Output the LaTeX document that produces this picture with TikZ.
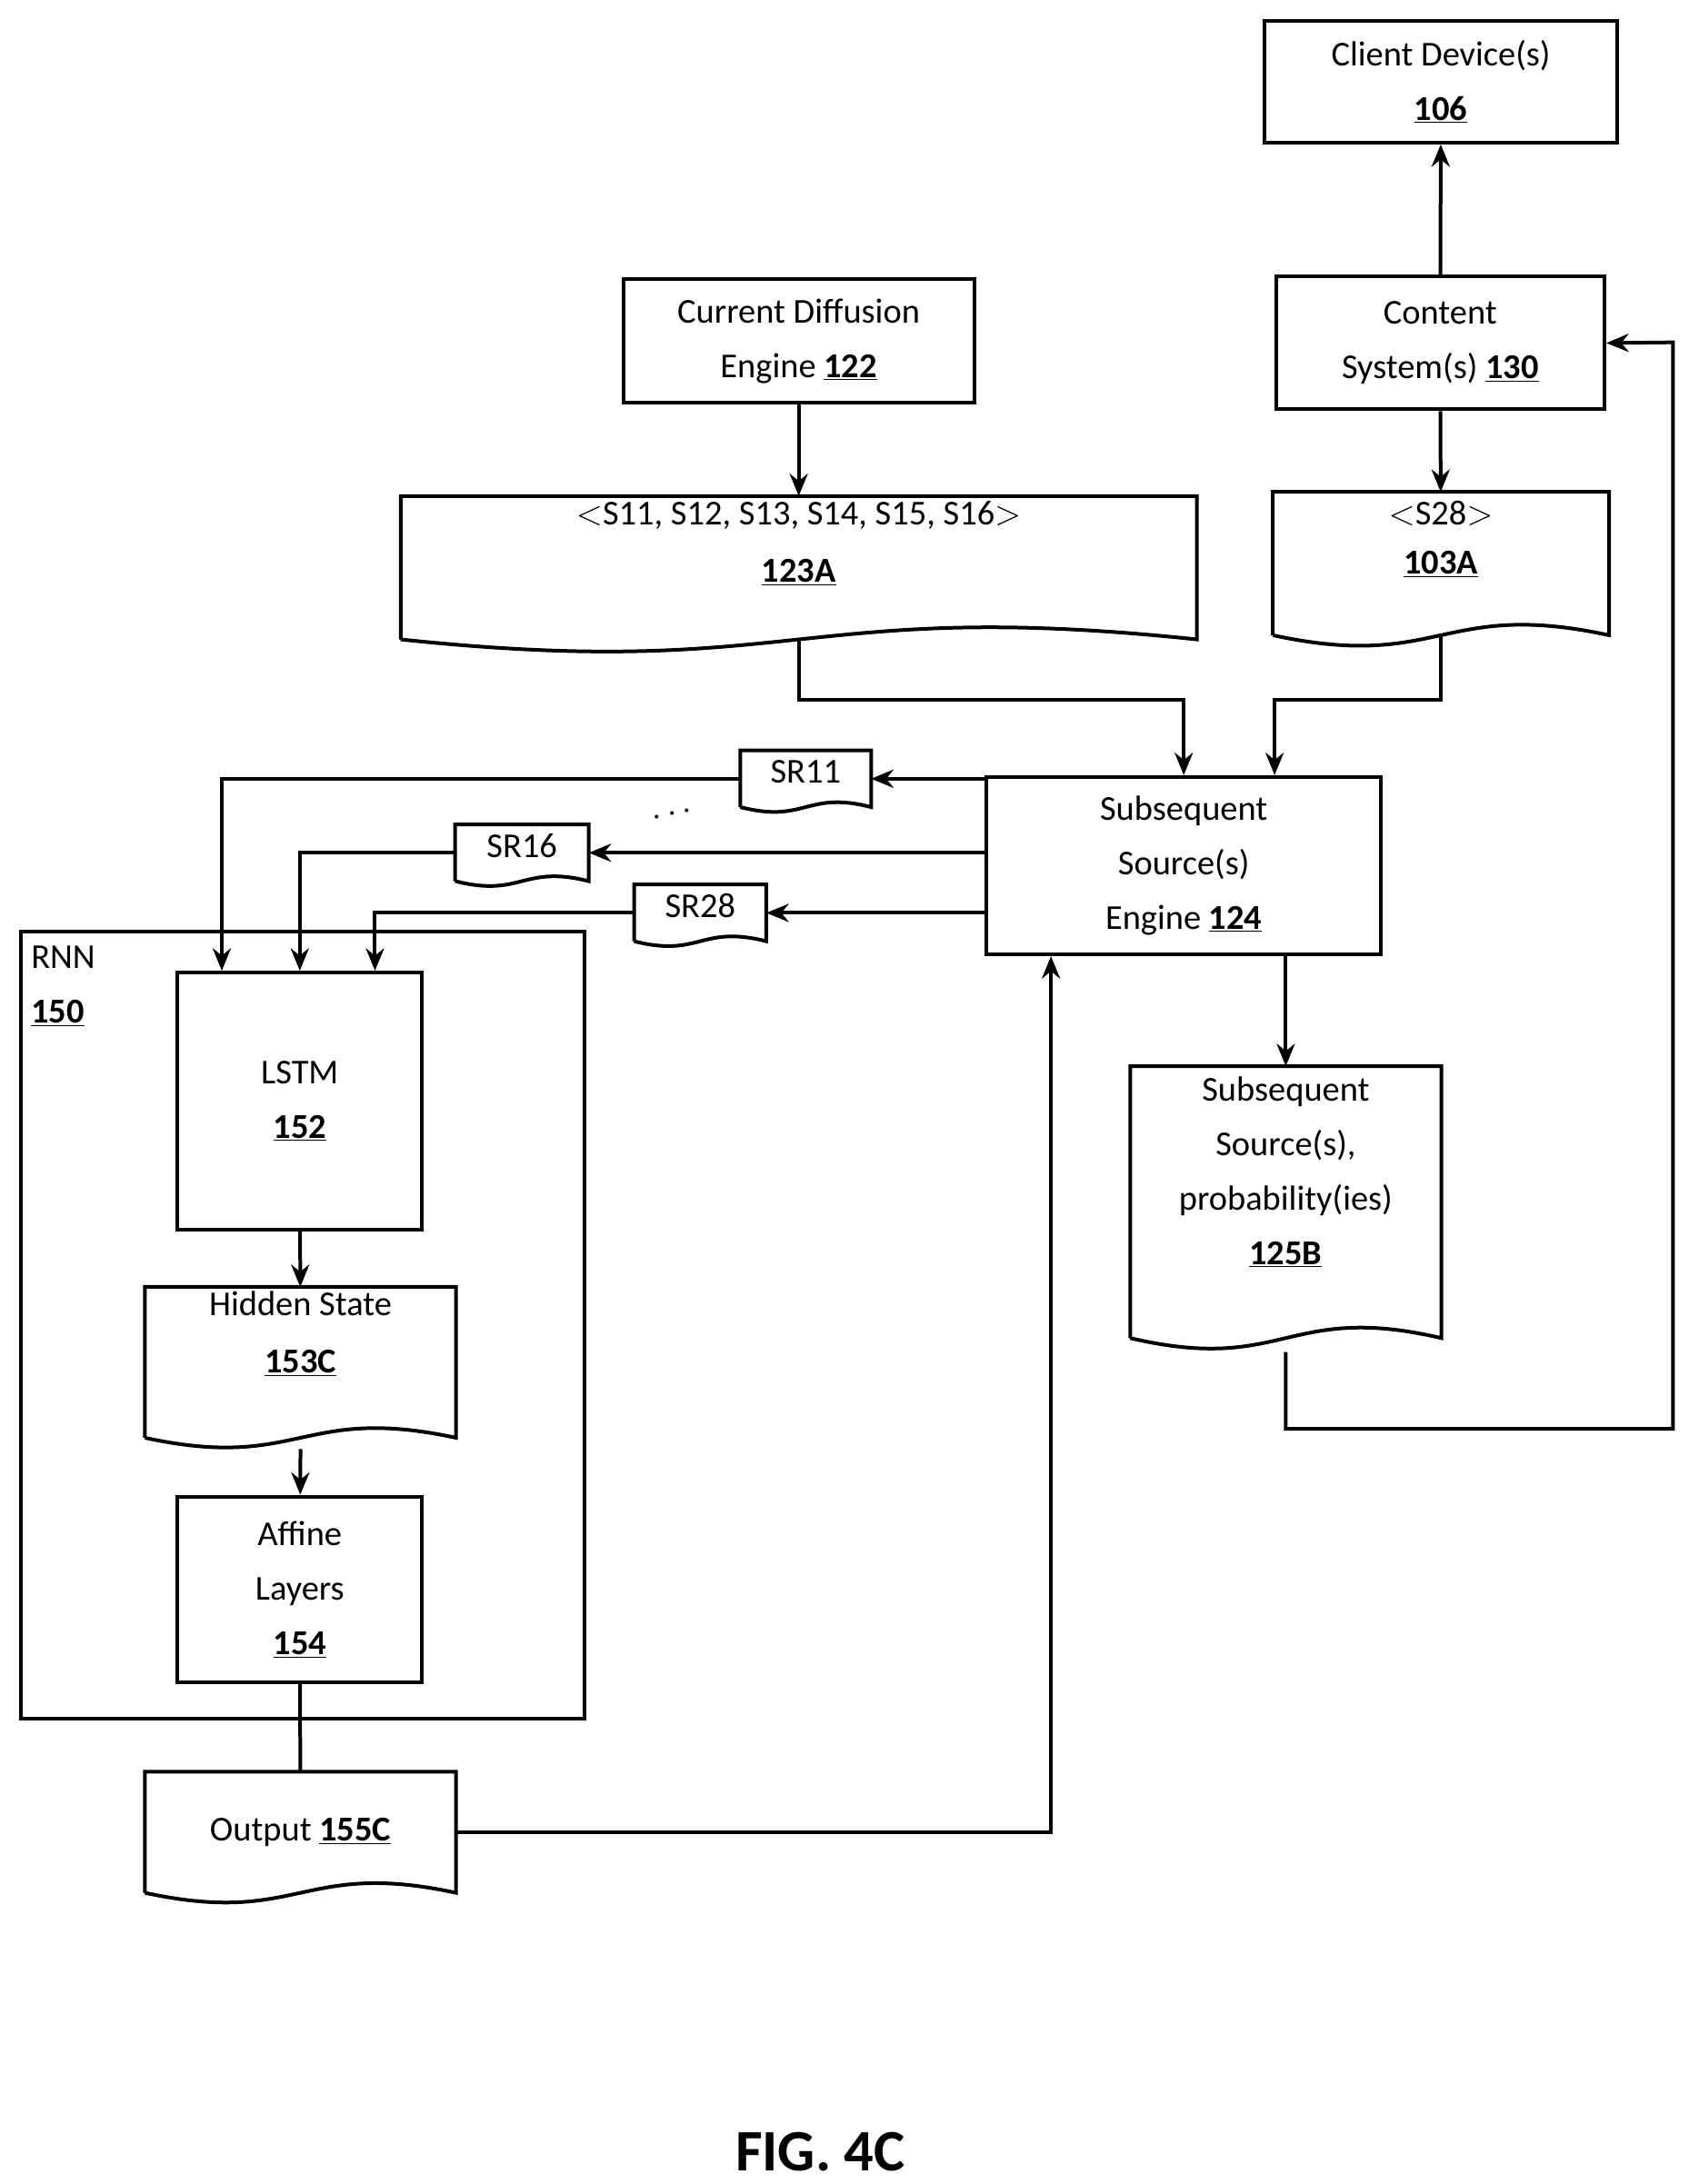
\documentclass[tikz,border=0pt]{standalone}
\usepackage{fontspec}
\setmainfont{Carlito}
\usetikzlibrary{calc,arrows.meta}
\tikzset{
    >={Stealth[length=16pt,width=13pt]},
    every path/.style={line width=2.6pt},
    box/.style={draw, line width=2.6pt, align=center, inner sep=2pt},
    doc/.style={align=center, inner sep=2pt},
}
% document shape with a wavy bottom
\newcommand{\wavedoc}[2]{%
  \draw (#1.south west) -- (#1.north west) -- (#1.north east) -- (#1.south east)
    .. controls ($(#1.south east)!0.5!(#1.south west)+(0,-#2)$) and ($(#1.south east)!0.5!(#1.south west)+(0,#2)$) .. (#1.south west);}
\newcommand{\num}[1]{\textbf{\underline{#1}}}
\begin{document}
\begin{tikzpicture}[x=1pt,y=-1pt,font=\fontsize{25}{39}\selectfont]
\useasboundingbox (0,0) rectangle (1208,1563);
% boxes
\node[box, minimum width=252, minimum height=87] (client) at (1031,58.5) {Client Device(s)\\\num{106}};
\node[box, minimum width=235, minimum height=95] (content) at (1030.5,245.5) {Content\\System(s) \num{130}};
\node[box, minimum width=251, minimum height=88] (cde) at (571.5,244) {Current Diffusion\\Engine \num{122}};
\node[box, minimum width=282, minimum height=127] (eng) at (847,619.5) {Subsequent\\Source(s)\\Engine \num{124}};
\node[box, minimum width=403, minimum height=563] (rnn) at (216.5,948.5) {};
\node[anchor=north west, align=left, inner sep=0pt] (rnnlbl) at (21,676) {RNN\\\num{150}};
\node[box, minimum width=175, minimum height=184] (lstm) at (214.5,788) {LSTM\\\num{152}};
\node[box, minimum width=175, minimum height=133] (aff) at (214.5,1137.5) {Affine\\Layers\\\num{154}};
% documents
\node[doc, minimum width=567, minimum height=100, anchor=north] (s123) at (571.5,355) {\raisebox{6pt}{$<$S11, S12, S13, S14, S15, S16$>$}\\[-4pt]\num{123A}\\[-2pt]};
\node[doc, minimum width=238, minimum height=100, anchor=north] (s103) at (1031,352) {$<$S28$>$\\[-4pt]\num{103A}\\[-2pt]};
\node[doc, minimum width=220, minimum height=192, anchor=north] (s125) at (920,763) {Subsequent\\Source(s),\\probability(ies)\\\num{125B}\\[6pt]};
\node[doc, minimum width=91, minimum height=38, anchor=north] (sr11) at (576.5,537) {\raisebox{10pt}{SR11}};
\node[doc, minimum width=93, minimum height=38, anchor=north] (sr16) at (373.5,590) {\raisebox{10pt}{SR16}};
\node[doc, minimum width=92, minimum height=38, anchor=north] (sr28) at (501,633) {\raisebox{10pt}{SR28}};
\node[doc, minimum width=220, minimum height=80, anchor=north] (hid) at (215,921) {\raisebox{10pt}{Hidden State}\\[-8pt]\num{153C}\\[4pt]};
\node[doc, minimum width=220, minimum height=84, anchor=north] (out) at (215,1268) {Output \num{155C}};
\wavedoc{s123}{30}
\wavedoc{s103}{26}
\wavedoc{s125}{26}
\wavedoc{sr11}{12}
\wavedoc{sr16}{12}
\wavedoc{sr28}{12}
\wavedoc{hid}{24}
\wavedoc{out}{24}
% dots
\node[font=\fontsize{40}{40}\selectfont\bfseries, rotate=12] (dots) at (481,583) {$\cdots$};
% connectors
\draw[->] (content) -- (client);
\draw[->] (cde) -- (s123);
\draw[->] (content) -- (s103);
\draw[->] (s123.south) -- ++(0,43) -| (eng.north -| 847,0);
\draw[->] (s103.south) -- ++(0,46) -| ($(eng.north)+(65,0)$);
\draw[->] (eng.west |- sr11.east) -- (sr11.east);
\draw[->] (eng.west |- sr16.east) -- (sr16.east);
\draw[->] (eng.west |- sr28.east) -- (sr28.east);
\draw[->] (sr11.west) -| ($(lstm.north west)+(33,0)$);
\draw[->] (sr16.west) -| (lstm.north);
\draw[->] (sr28.west) -| ($(lstm.north east)+(-35,0)$);
\draw[->] (eng.south -| s125.north) -- (s125.north);
\draw[->] ($(s125.south)+(0,10)$) -- ++(0,55) -| (1197,245) -- (content.east);
\draw[->] (lstm) -- (hid);
\draw[->] ($(hid.south)+(0,8)$) -- (aff);
\draw (aff) -- (out);
\draw[->] (out.east) -| ($(eng.south)+(-95,0)$);
% caption
\node[font=\fontsize{42}{42}\selectfont\bfseries] (fig) at (587,1540) {FIG. 4C};
\end{tikzpicture}
\end{document}
